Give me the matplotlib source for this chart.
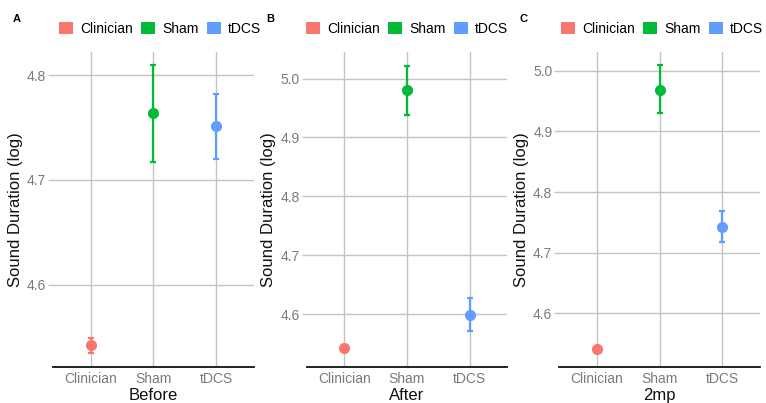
import matplotlib.pyplot as plt
from matplotlib.patches import Patch

plt.rcParams.update({
    "font.family": ["Liberation Sans", "DejaVu Sans"],
    "font.size": 10,
})

groups = ["Clinician", "Sham", "tDCS"]
colors = ["#F8766D", "#00BA38", "#619CFF"]

panels = ["A", "B", "C"]
phases = ["Before", "After", "2mp"]

# mean, lower, upper per group for each phase
means = {
    "Before": [4.543, 4.764, 4.751],
    "After": [4.542, 4.980, 4.599],
    "2mp": [4.542, 4.969, 4.743],
}
lower = {
    "Before": [4.535, 4.717, 4.720],
    "After": [4.542, 4.938, 4.572],
    "2mp": [4.542, 4.931, 4.717],
}
upper = {
    "Before": [4.549, 4.810, 4.782],
    "After": [4.542, 5.022, 4.627],
    "2mp": [4.542, 5.009, 4.769],
}
ylims = {
    "Before": (4.522, 4.822),
    "After": (4.511, 5.045),
    "2mp": (4.512, 5.031),
}
yticks = {
    "Before": [4.6, 4.7, 4.8],
    "After": [4.6, 4.7, 4.8, 4.9, 5.0],
    "2mp": [4.6, 4.7, 4.8, 4.9, 5.0],
}

W, H = 766, 403
fig = plt.figure(figsize=(W / 100, H / 100), dpi=100)

lefts = [53, 306.7, 559.3]
top, bottom = 52, 366.7
width = 200.5
legend_x = [160, 407, 662]
letter_x = [17, 270, 523]

for i, phase in enumerate(phases):
    ax = fig.add_axes([lefts[i] / W, (H - bottom) / H, width / W, (bottom - top) / H])
    x = [1, 2, 3]
    for j in range(3):
        m = means[phase][j]
        err = [[m - lower[phase][j]], [upper[phase][j] - m]]
        ax.errorbar(x[j], m, yerr=err, fmt="o", color=colors[j], ms=7,
                    elinewidth=1.6, capsize=2.2, capthick=1.6, zorder=3)
    ax.set_xlim(0.4, 3.6)
    ax.set_ylim(*ylims[phase])
    ax.set_xticks(x)
    ax.set_xticklabels(groups)
    ax.set_yticks(yticks[phase])
    ax.set_yticklabels([f"{t:.1f}" for t in yticks[phase]])
    ax.grid(True, color="#c4c4c4", linewidth=1.0)
    ax.set_axisbelow(True)
    for s in ["top", "right", "left"]:
        ax.spines[s].set_visible(False)
    ax.spines["bottom"].set_linewidth(1.3)
    ax.spines["bottom"].set_color("#111111")
    ax.tick_params(axis="x", length=0, colors="#7a7a7a", labelsize=10, pad=4)
    ax.tick_params(axis="y", length=3.5, width=1.0, color="#c4c4c4",
                   labelcolor="#7a7a7a", labelsize=10, pad=1.5)
    ax.set_ylabel("Sound Duration (log)", fontsize=12, color="#111111", labelpad=3)
    ax.set_xlabel(phase, fontsize=12, color="#111111", labelpad=1)

    handles = [Patch(facecolor=c, edgecolor="none") for c in colors]
    fig.legend(handles, groups, loc="center", ncol=3, frameon=False,
               bbox_to_anchor=(legend_x[i] / W, 1 - 29 / H),
               handlelength=1.0, handleheight=1.0, handletextpad=0.5,
               columnspacing=0.6, fontsize=10)
    fig.text(letter_x[i] / W, 1 - 19 / H, panels[i], fontsize=8,
             fontweight="bold", ha="center", va="center")

fig.savefig("out.png", dpi=100)
